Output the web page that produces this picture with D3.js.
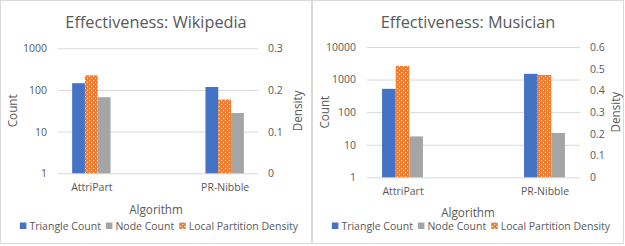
<!DOCTYPE html>
<html lang="en">
<head>
<meta charset="UTF-8">
<script src="https://cdn.jsdelivr.net/npm/d3@7"></script>
<title>Effectiveness</title>
<style>
  body { margin: 0; background: #fff; }
  text { font-family: "Open Sans", sans-serif; fill: #595959; }
</style>
</head>
<body>
<svg width="625" height="246"></svg>
<script>
// data
const categories = ['AttriPart', 'PR-Nibble'];
const seriesNames = ['Triangle Count', 'Node Count', 'Local Partition Density'];

const wikiTriangle = [145, 118];
const wikiNode = [67, 28];
const wikiDensity = [0.235, 0.177];
const wikiCountTicks = [1, 10, 100, 1000];
const wikiDensityTicks = [0, 0.1, 0.2, 0.3];

const musTriangle = [520, 1500];
const musNode = [18, 23];
const musDensity = [0.513, 0.471];
const musCountTicks = [1, 10, 100, 1000, 10000];
const musDensityTicks = [0, 0.1, 0.2, 0.3, 0.4, 0.5, 0.6];

const colors = { tri: '#4472C4', node: '#A5A5A5', dens: '#ED7D31' };

const svg = d3.select('svg');

// dotted fill for the density bars
const pat = svg.append('defs').append('pattern')
  .attr('id', 'dots').attr('patternUnits', 'userSpaceOnUse')
  .attr('width', 4).attr('height', 4);
pat.append('rect').attr('width', 4).attr('height', 4).attr('fill', colors.dens);
pat.append('rect').attr('x', 1).attr('y', 0).attr('width', 1).attr('height', 1).attr('fill', '#fff');
pat.append('rect').attr('x', 3).attr('y', 2).attr('width', 1).attr('height', 1).attr('fill', '#fff');

const charts = [
  { title: 'Effectiveness: Wikipedia', ox: 0, left: 58, right: 258, top: 48.3, bottom: 173.3,
    tri: wikiTriangle, node: wikiNode, dens: wikiDensity,
    countTicks: wikiCountTicks, densTicks: wikiDensityTicks, countX: 12.5, densX: 297.5, algY: 214 },
  { title: 'Effectiveness: Musician', ox: 312, left: 55, right: 268, top: 47, bottom: 177.3,
    tri: musTriangle, node: musNode, dens: musDensity,
    countTicks: musCountTicks, densTicks: musDensityTicks, countX: 12.5, densX: 304, algY: 216.5 }
];

charts.forEach(function(c) {
  const g = svg.append('g').attr('transform', `translate(${c.ox},0)`);

  g.append('rect')
    .attr('x', 0.5).attr('y', 0.5).attr('width', 311).attr('height', 243)
    .attr('fill', '#fff').attr('stroke', '#D9D9D9');

  const x = d3.scalePoint().domain(categories).range([c.left, c.right]).padding(0.25);
  const y = d3.scaleLog()
    .domain([1, d3.max(c.countTicks)]).range([c.bottom, c.top]);
  const y2 = d3.scaleLinear()
    .domain([0, d3.max(c.densTicks)]).range([c.bottom, c.top]);
  const bw = x.step() * 0.096;

  // gridlines + left labels
  const yAxis = d3.axisLeft(y).tickValues(c.countTicks)
    .tickFormat(d3.format('d'))
    .tickSizeInner(-(c.right - c.left)).tickSizeOuter(0).tickPadding(11);
  const ya = g.append('g').attr('transform', `translate(${c.left},0)`).call(yAxis);
  ya.select('.domain').remove();
  ya.selectAll('line').attr('stroke', '#D9D9D9');
  ya.selectAll('text').attr('font-size', 10.5).attr('fill', '#595959');

  const y2Axis = d3.axisRight(y2).tickValues(c.densTicks)
    .tickFormat(d => d === 0 ? '0' : d3.format('.1f')(d))
    .tickSize(0).tickPadding(10);
  const y2a = g.append('g').attr('transform', `translate(${c.right},0)`).call(y2Axis);
  y2a.select('.domain').remove();
  y2a.selectAll('text').attr('font-size', 10.5).attr('fill', '#595959');

  // bars
  const bars = g.append('g');
  bars.selectAll('.tri').data(c.tri).enter().append('rect')
    .attr('x', (d, i) => x(categories[i]) - 1.5 * bw)
    .attr('y', d => y(d)).attr('width', bw)
    .attr('height', d => c.bottom - y(d)).attr('fill', colors.tri);
  bars.selectAll('.dens').data(c.dens).enter().append('rect')
    .attr('x', (d, i) => x(categories[i]) - 0.5 * bw)
    .attr('y', d => y2(d)).attr('width', bw)
    .attr('height', d => c.bottom - y2(d)).attr('fill', 'url(#dots)');
  bars.selectAll('.node').data(c.node).enter().append('rect')
    .attr('x', (d, i) => x(categories[i]) + 0.5 * bw)
    .attr('y', d => y(d)).attr('width', bw)
    .attr('height', d => c.bottom - y(d)).attr('fill', colors.node);

  // category axis
  const xAxis = d3.axisBottom(x).tickSize(0).tickPadding(10);
  const xa = g.append('g').attr('transform', `translate(0,${c.bottom})`).call(xAxis);
  xa.select('.domain').remove();
  xa.selectAll('text').attr('font-size', 10.5).attr('fill', '#595959');

  // titles
  g.append('text').attr('x', 156).attr('y', 28).attr('text-anchor', 'middle')
    .attr('font-size', 16.3).text(c.title);
  g.append('text').attr('x', 156).attr('y', c.algY).attr('text-anchor', 'middle')
    .attr('font-size', 11.7).text('Algorithm');
  g.append('text').attr('transform', `translate(${c.countX},${(c.top + c.bottom) / 2}) rotate(-90)`)
    .attr('text-anchor', 'middle').attr('dy', '0.35em').attr('font-size', 11.7).text('Count');
  g.append('text').attr('transform', `translate(${c.densX},${(c.top + c.bottom) / 2}) rotate(-90)`)
    .attr('text-anchor', 'middle').attr('dy', '0.35em').attr('font-size', 11.7).text('Density');

  // legend
  const fills = [colors.tri, colors.node, 'url(#dots)'];
  const leg = g.append('g');
  let lx = 0;
  seriesNames.forEach(function(name, i) {
    const item = leg.append('g').attr('transform', `translate(${lx},0)`);
    item.append('rect').attr('x', 0).attr('y', -3.5).attr('width', 6.5).attr('height', 6.5).attr('fill', fills[i]);
    const t = item.append('text').attr('x', 9.5).attr('dy', '0.35em').attr('font-size', 10.5).text(name);
    lx += 9.5 + t.node().getComputedTextLength() + 5;
  });
  lx -= 5;
  leg.attr('transform', `translate(${159 - lx / 2},226)`);
});
</script>
</body>
</html>
